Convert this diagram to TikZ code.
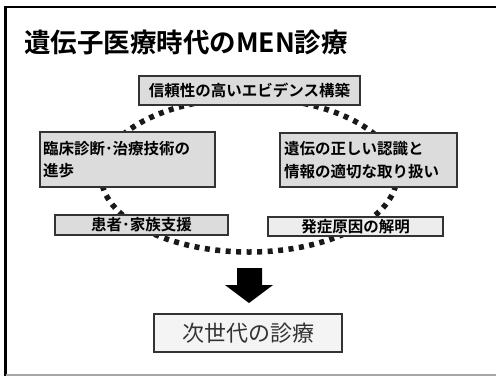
\documentclass[tikz,border=0pt]{standalone}
\usepackage{fontspec}
\setmainfont{Noto Sans CJK JP}[BoldFont={Noto Sans CJK JP Bold}]
\definecolor{boxgray}{HTML}{DCDCDC}
\definecolor{boxlight}{HTML}{EDEDED}
\definecolor{boxpale}{HTML}{F4F4F4}
\definecolor{edgegray}{HTML}{333333}
\definecolor{textgray}{HTML}{333333}
\tikzset{
  cbox/.style={draw=edgegray, line width=1.2pt, fill=boxgray, inner sep=0pt,
    font=\bfseries\fontsize{15.5}{22.5}\selectfont, text=black},
  dots/.style={line width=5.5pt, dash pattern=on 5pt off 5.5pt, color=black!90}
}
\begin{document}
\begin{tikzpicture}[x=1pt,y=-1pt]
\useasboundingbox (0,0) rectangle (496,376);
\fill[white] (0,0) rectangle (496,376);
% frame
\draw[line width=2.5pt] (5.5,376) -- (5.5,7) -- (496,7);
\draw[line width=2pt, color=black!35] (5.5,374.5) -- (496,374.5);
% title
\node[anchor=west, inner sep=0pt, font=\bfseries\fontsize{26.5}{30}\selectfont] (title) at (24,42) {遺伝子医療時代のMEN診療};
% dotted cycle
\draw[dots] (249,175) ellipse [x radius=148, y radius=77];
% boxes
\node[cbox, minimum width=221, minimum height=29] (top) at (249.5,90.5) {信頼性の高いエビデンス構築};
\node[cbox, minimum width=175, minimum height=55, text width=169, align=left] (left) at (127.5,159.5) {臨床診断･治療技術の\\進歩};
\node[cbox, minimum width=177, minimum height=54, text width=169, align=left] (right) at (368.5,160) {遺伝の正しい認識と\\情報の適切な取り扱い};
\node[cbox, minimum width=173, minimum height=20] (bl) at (141.5,225) {患者･家族支援};
\node[cbox, fill=boxlight, minimum width=175, minimum height=19] (br) at (355.5,226.5) {発症原因の解明};
% big arrow
\fill[black] (237,268) -- (262,268) -- (262,285) -- (273,285) -- (249,303) -- (225,285) -- (237,285) -- cycle;
% result box
\node[draw=edgegray, line width=1.2pt, fill=boxpale, inner sep=0pt, minimum width=188, minimum height=38,
  font=\fontsize{22}{25}\selectfont, text=textgray] (next) at (248,333) {次世代の診療};
\end{tikzpicture}
\end{document}
